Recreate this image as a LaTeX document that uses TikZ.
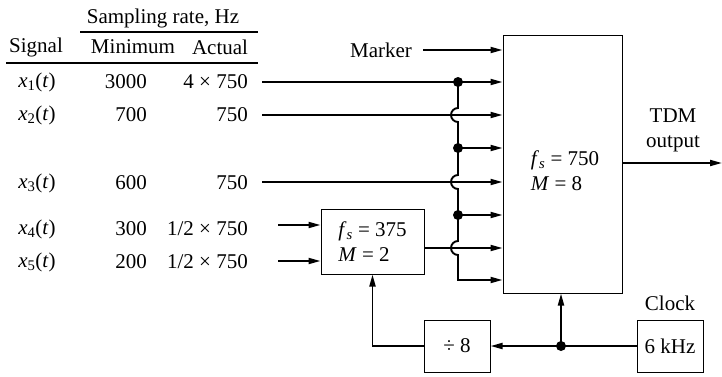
\documentclass[tikz,border=0pt]{standalone}
\usepackage{fontspec}
\setmainfont{Liberation Serif}
\usetikzlibrary{arrows.meta, positioning}
\newcommand{\sig}[1]{\textit{x}\textsubscript{#1}(\textit{t})}
\newcommand{\fs}{\textit{f}\textsubscript{\textit{s}}}
\tikzset{
    % Box styles
    block/.style={
        rectangle,
        draw,
        line width=1pt,
        inner sep=0pt
    },
    cell/.style={
        inner sep=0pt
    },
    % Line styles
    rule/.style={
        line width=1.2pt
    },
    arrow/.style={
        -{Triangle[length=12pt,width=6pt]},
        line width=1.9pt
    },
    dot/.style={
        circle,
        fill,
        inner sep=0pt,
        minimum size=10pt
    }
}

\begin{document}
\begin{tikzpicture}[x=1pt, y=-1pt, font=\fontsize{21}{25}\selectfont]
    \useasboundingbox (0,0) rectangle (722,376);

    % Table
    \node[cell] (head) at (163,18) {Sampling rate, Hz};
    \draw[rule] (80,32) -- (258,32);
    \node[cell] (hsig) at (36,47) {Signal};
    \node[cell] (hmin) at (133,47) {Minimum};
    \node[cell] (hact) at (220,47) {Actual};
    \draw[rule] (6,63) -- (258,63);

    \node[cell] (n1) at (37,82) {\sig{1}};
    \node[cell, anchor=east] (m1) at (147,82) {3000};
    \node[cell, anchor=east] (a1) at (248,82) {4 × 750};

    \node[cell] (n2) at (37,115) {\sig{2}};
    \node[cell, anchor=east] (m2) at (147,115) {700};
    \node[cell, anchor=east] (a2) at (248,115) {750};

    \node[cell] (n3) at (37,183) {\sig{3}};
    \node[cell, anchor=east] (m3) at (147,183) {600};
    \node[cell, anchor=east] (a3) at (248,183) {750};

    \node[cell] (n4) at (37,229) {\sig{4}};
    \node[cell, anchor=east] (m4) at (147,229) {300};
    \node[cell, anchor=east] (a4) at (248,229) {1/2 × 750};

    \node[cell] (n5) at (37,262) {\sig{5}};
    \node[cell, anchor=east] (m5) at (147,262) {200};
    \node[cell, anchor=east] (a5) at (248,262) {1/2 × 750};

    % Blocks
    \node[block, minimum width=119pt, minimum height=258pt] (mux) at (562.5,164) {};
    \node[cell, align=left] (muxtext) at (565,171) {\fs{} = 750\\\textit{M} = 8};
    \node[block, minimum width=103pt, minimum height=65pt, align=left] (submux) at (372.5,241.5) {\fs{} = 375\\\textit{M} = 2};
    \node[block, minimum width=66pt, minimum height=52pt] (divider) at (457,346) {÷ 8};
    \node[block, minimum width=66pt, minimum height=52pt] (clock) at (670,346) {6 kHz};
    \node[cell, above=9pt of clock] (clocklbl) {Clock};
    \node[cell, align=center] (tdm) at (673,130) {TDM\\output};
    \node[cell] (marker) at (381,50) {Marker};

    % Coordinates
    \coordinate (s1) at (262,82);
    \coordinate (s2) at (262,115);
    \coordinate (s3) at (262,182);
    \coordinate (s4) at (278,225);
    \coordinate (s5) at (278,261);
    \coordinate (j1) at (458,82);
    \coordinate (j2) at (458,148);
    \coordinate (j3) at (458,215);
    \coordinate (j4) at (458,280);
    \coordinate (tap) at (561,346);
    \coordinate (out) at (722,163);

    % Arrows
    \draw[arrow] ([xshift=11pt]marker.east) -- (marker -| mux.west);
    \draw[arrow] (s1) -- (s1 -| mux.west);
    \draw[arrow] (s2) -- (s2 -| mux.west);
    \draw[arrow] (s3) -- (s3 -| mux.west);
    \draw[arrow] (s4) -- (s4 -| submux.west);
    \draw[arrow] (s5) -- (s5 -| submux.west);
    \draw[arrow] ([yshift=-6.5pt]submux.east) coordinate (so) -- (so -| mux.west);
    \draw[arrow] (j2) -- (j2 -| mux.west);
    \draw[arrow] (j3) -- (j3 -| mux.west);

    % Bus with hops
    \draw[arrow] (j1) -- (458,108) arc[start angle=-90, end angle=-270, radius=7]
        -- (j2) -- (458,175) arc[start angle=-90, end angle=-270, radius=7]
        -- (j3) -- (458,241) arc[start angle=-90, end angle=-270, radius=7]
        -- (j4) -- (j4 -| mux.west);
    \node[dot] (d1) at (j1) {};
    \node[dot] (d2) at (j2) {};
    \node[dot] (d3) at (j3) {};

    % Clock path
    \draw[arrow] (clock.west) -- (divider.east);
    \draw[arrow] (tap) -- (tap |- mux.south);
    \node[dot] (d4) at (tap) {};
    \draw[arrow] (divider.west) -| (submux.south);
    \draw[arrow] (mux.east |- out) -- (out);
\end{tikzpicture}
\end{document}
